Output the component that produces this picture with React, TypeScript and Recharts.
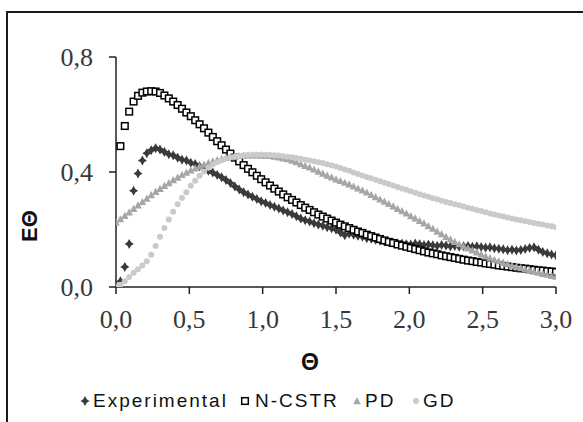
import React from "react";
import { ScatterChart, Scatter, XAxis, YAxis, Legend, Label } from "recharts";

// dimensionless time grid
const theta = [
  0, 0.03, 0.06, 0.09, 0.12, 0.15, 0.18, 0.21, 0.24, 0.27,
  0.3, 0.33, 0.36, 0.39, 0.42, 0.45, 0.48, 0.51, 0.54, 0.57,
  0.6, 0.63, 0.66, 0.69, 0.72, 0.75, 0.78, 0.81, 0.84, 0.87,
  0.9, 0.93, 0.96, 0.99, 1.02, 1.05, 1.08, 1.11, 1.14, 1.17,
  1.2, 1.23, 1.26, 1.29, 1.32, 1.35, 1.38, 1.41, 1.44, 1.47,
  1.5, 1.53, 1.56, 1.59, 1.62, 1.65, 1.68, 1.71, 1.74, 1.77,
  1.8, 1.83, 1.86, 1.89, 1.92, 1.95, 1.98, 2.01, 2.04, 2.07,
  2.1, 2.13, 2.16, 2.19, 2.22, 2.25, 2.28, 2.31, 2.34, 2.37,
  2.4, 2.43, 2.46, 2.49, 2.52, 2.55, 2.58, 2.61, 2.64, 2.67,
  2.7, 2.73, 2.76, 2.79, 2.82, 2.85, 2.88, 2.91, 2.94, 2.97,
  3.0,
];

const experimental = [
  0, 0.02, 0.07, 0.15, 0.335, 0.395, 0.44, 0.465, 0.476, 0.483,
  0.478, 0.47, 0.462, 0.458, 0.45, 0.443, 0.44, 0.432, 0.428, 0.42,
  0.413, 0.404, 0.398, 0.39, 0.382, 0.372, 0.362, 0.35, 0.339, 0.33,
  0.322, 0.314, 0.306, 0.298, 0.292, 0.285, 0.279, 0.273, 0.266, 0.26,
  0.254, 0.246, 0.238, 0.232, 0.228, 0.222, 0.217, 0.213, 0.208, 0.204,
  0.199, 0.19, 0.18, 0.185, 0.182, 0.178, 0.175, 0.17, 0.168, 0.164,
  0.161, 0.158, 0.156, 0.154, 0.152, 0.151, 0.149, 0.148, 0.151, 0.149,
  0.146, 0.148, 0.145, 0.143, 0.146, 0.144, 0.141, 0.143, 0.14, 0.142,
  0.143, 0.14, 0.142, 0.139, 0.137, 0.138, 0.135, 0.133, 0.131, 0.128,
  0.13, 0.127, 0.129, 0.132, 0.136, 0.138, 0.13, 0.122, 0.117, 0.113,
  0.11,
];

const nCstr = [
  null, 0.49, 0.56, 0.61, 0.645, 0.665, 0.676, 0.68, 0.681, 0.68,
  0.675, 0.666, 0.656, 0.645, 0.633, 0.62, 0.607, 0.594, 0.58, 0.566,
  0.552, 0.537, 0.522, 0.507, 0.493, 0.478, 0.464, 0.45, 0.437, 0.424,
  0.411, 0.399, 0.387, 0.375, 0.364, 0.353, 0.342, 0.332, 0.322, 0.312,
  0.303, 0.294, 0.285, 0.276, 0.268, 0.26, 0.252, 0.245, 0.238, 0.231,
  0.224, 0.217, 0.211, 0.205, 0.199, 0.193, 0.188, 0.182, 0.177, 0.172,
  0.167, 0.162, 0.157, 0.153, 0.148, 0.144, 0.14, 0.136, 0.132, 0.128,
  0.124, 0.12, 0.117, 0.114, 0.11, 0.107, 0.104, 0.101, 0.098, 0.095,
  0.092, 0.09, 0.087, 0.085, 0.082, 0.08, 0.078, 0.075, 0.073, 0.071,
  0.069, 0.067, 0.065, 0.064, 0.062, 0.06, 0.058, 0.057, 0.055, 0.054,
  0.052,
];

const pd = [
  0.225, 0.236, 0.248, 0.26, 0.272, 0.284, 0.296, 0.308, 0.32, 0.331,
  0.342, 0.352, 0.362, 0.372, 0.381, 0.39, 0.398, 0.406, 0.413, 0.42,
  0.426, 0.432, 0.437, 0.442, 0.446, 0.449, 0.452, 0.454, 0.456, 0.457,
  0.458, 0.458, 0.458, 0.457, 0.457, 0.456, 0.454, 0.451, 0.448, 0.445,
  0.44, 0.435, 0.428, 0.422, 0.416, 0.409, 0.402, 0.395, 0.388, 0.382,
  0.375, 0.369, 0.363, 0.357, 0.35, 0.343, 0.336, 0.329, 0.321, 0.313,
  0.305, 0.297, 0.289, 0.281, 0.272, 0.264, 0.256, 0.247, 0.239, 0.23,
  0.222, 0.212, 0.203, 0.193, 0.184, 0.175, 0.166, 0.157, 0.149, 0.142,
  0.135, 0.128, 0.121, 0.114, 0.107, 0.101, 0.095, 0.09, 0.085, 0.08,
  0.075, 0.071, 0.066, 0.062, 0.058, 0.054, 0.05, 0.046, 0.043, 0.039,
  0.036,
];

const gd = [
  0, 0.008, 0.02, 0.035, 0.05, 0.062, 0.075, 0.09, 0.112, 0.143,
  0.175, 0.205, 0.235, 0.262, 0.288, 0.31, 0.33, 0.352, 0.37, 0.387,
  0.402, 0.415, 0.426, 0.434, 0.441, 0.447, 0.451, 0.454, 0.456, 0.458,
  0.459, 0.46, 0.46, 0.46, 0.46, 0.459, 0.458, 0.457, 0.455, 0.453,
  0.451, 0.449, 0.446, 0.443, 0.44, 0.437, 0.434, 0.431, 0.427, 0.423,
  0.419, 0.414, 0.409, 0.404, 0.398, 0.393, 0.388, 0.383, 0.378, 0.373,
  0.368, 0.363, 0.358, 0.353, 0.348, 0.343, 0.338, 0.333, 0.328, 0.323,
  0.318, 0.314, 0.309, 0.305, 0.3, 0.296, 0.292, 0.288, 0.284, 0.28,
  0.276, 0.272, 0.268, 0.264, 0.26, 0.256, 0.252, 0.249, 0.245, 0.242,
  0.238, 0.235, 0.232, 0.229, 0.226, 0.223, 0.22, 0.217, 0.214, 0.211,
  0.208,
];

const xTicks = [0, 0.5, 1, 1.5, 2, 2.5, 3];
const yTicks = [0, 0.4, 0.8];

const toPoints = (vals: (number | null)[]) =>
  theta
    .map((x, i) => ({ x, y: vals[i] }))
    .filter((p) => p.y !== null && p.y !== undefined);

const fmt = (v: number) => v.toFixed(1).replace(".", ",");

const Star = ({ cx, cy }: any) => (
  <path
    d={`M${cx},${cy - 5} L${cx + 1.8},${cy - 1.8} L${cx + 4.5},${cy} L${cx + 1.8},${cy + 1.8} L${cx},${cy + 5} L${cx - 1.8},${cy + 1.8} L${cx - 4.5},${cy} L${cx - 1.8},${cy - 1.8} Z`}
    fill="#3a3a3a"
  />
);
const Square = ({ cx, cy }: any) => (
  <rect x={cx - 3.3} y={cy - 3.3} width={6.6} height={6.6} fill="#fff" stroke="#000" strokeWidth={1.5} />
);
const Tri = ({ cx, cy }: any) => (
  <path d={`M${cx},${cy - 4} L${cx + 3.8},${cy + 3.2} L${cx - 3.8},${cy + 3.2} Z`} fill="#a6a6a6" />
);
const Dot = ({ cx, cy }: any) => <circle cx={cx} cy={cy} r={3} fill="#cacaca" />;

const legendItems = [
  { name: "Experimental", icon: Star, iconX: 85, textX: 93 },
  { name: "N-CSTR", icon: Square, iconX: 245, textX: 255 },
  { name: "PD", icon: Tri, iconX: 357, textX: 365 },
  { name: "GD", icon: Dot, iconX: 416, textX: 423 },
];

const LegendBox = () => (
  <div style={{ position: "relative", width: 583, height: 24 }}>
    {legendItems.map((it) => {
      const Icon = it.icon;
      return (
        <React.Fragment key={it.name}>
          <svg
            width={12}
            height={12}
            style={{ position: "absolute", left: it.iconX - 6, top: 6 }}
          >
            <Icon cx={6} cy={6} />
          </svg>
          <span
            style={{
              position: "absolute",
              left: it.textX,
              top: 1,
              fontFamily: "'Liberation Sans', Arial, sans-serif",
              fontSize: 19,
              letterSpacing: 2,
              color: "#111",
              lineHeight: "22px",
              whiteSpace: "nowrap",
            }}
          >
            {it.name}
          </span>
        </React.Fragment>
      );
    })}
  </div>
);

const tickStyle = {
  fontFamily: "'Liberation Serif', 'Times New Roman', serif",
  fontSize: 26,
  fill: "#383838",
};

export default function App() {
  return (
    <div
      style={{
        position: "absolute",
        left: 0,
        top: 0,
        width: 583,
        height: 422,
        background: "#fff",
        overflow: "hidden",
      }}
    >
      <div
        style={{
          position: "absolute",
          left: 6,
          top: 11,
          width: 577,
          height: 411,
          borderTop: "2.5px solid #1a1a1a",
          borderLeft: "2.5px solid #1a1a1a",
          boxSizing: "border-box",
        }}
      />
      <ScatterChart
        width={583}
        height={422}
        margin={{ top: 57, right: 27, left: 0, bottom: 9 }}
      >
        <XAxis
          type="number"
          dataKey="x"
          domain={[0, 3]}
          ticks={xTicks}
          tickFormatter={fmt}
          tick={tickStyle}
          tickSize={7}
          tickMargin={16}
          height={102}
          axisLine={{ stroke: "#222", strokeWidth: 1.5 }}
          tickLine={{ stroke: "#222", strokeWidth: 1.5 }}
          allowDataOverflow
        >
          <Label
            content={() => (
              <text
                x={310}
                y={370}
                textAnchor="middle"
                fontFamily="'Liberation Sans', Arial, sans-serif"
                fontWeight="bold"
                fontSize={23}
                fill="#111"
              >
                Θ
              </text>
            )}
          />
        </XAxis>
        <YAxis
          type="number"
          dataKey="y"
          domain={[0, 0.8]}
          ticks={yTicks}
          tickFormatter={fmt}
          tick={tickStyle}
          tickSize={7}
          tickMargin={16}
          width={116}
          axisLine={{ stroke: "#222", strokeWidth: 1.5 }}
          tickLine={{ stroke: "#222", strokeWidth: 1.5 }}
          allowDataOverflow
        >
          <Label
            content={() => (
              <text
                x={29}
                y={226}
                transform="rotate(-90, 29, 226)"
                textAnchor="middle"
                dominantBaseline="central"
                fontFamily="'Liberation Sans', Arial, sans-serif"
                fontWeight="bold"
                fontSize={22}
                fill="#111"
              >
                EΘ
              </text>
            )}
          />
        </YAxis>
        <Legend
          content={() => <LegendBox />}
          wrapperStyle={{ left: 0, top: 389, width: 583, height: 24 }}
        />
        <Scatter name="Experimental" data={toPoints(experimental)} shape={(p: any) => <Star cx={p.cx} cy={p.cy} />} isAnimationActive={false} />
        <Scatter name="N-CSTR" data={toPoints(nCstr)} shape={(p: any) => <Square cx={p.cx} cy={p.cy} />} isAnimationActive={false} />
        <Scatter name="PD" data={toPoints(pd)} shape={(p: any) => <Tri cx={p.cx} cy={p.cy} />} isAnimationActive={false} />
        <Scatter name="GD" data={toPoints(gd)} shape={(p: any) => <Dot cx={p.cx} cy={p.cy} />} isAnimationActive={false} />
      </ScatterChart>
    </div>
  );
}
